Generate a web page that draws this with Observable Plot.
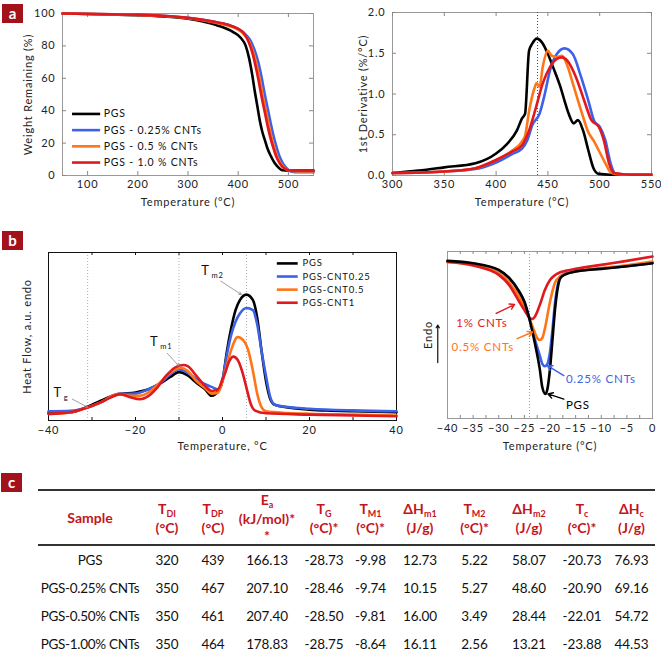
<!DOCTYPE html>
<html><head><meta charset="utf-8">
<script src="https://cdn.jsdelivr.net/npm/d3@7"></script>
<script src="https://cdn.jsdelivr.net/npm/@observablehq/plot@0.6"></script>
<style>
body{margin:0;background:#fff;}
#page{position:relative;width:661px;height:658px;overflow:hidden;font-family:Lato,sans-serif;background:#fff;}
.panel{position:absolute;}
.tag{position:absolute;background:#a3121b;color:#fff;font:bold 15px Lato,sans-serif;width:21px;height:19px;line-height:18px;text-align:center;}
table.tbl{position:absolute;left:38px;top:489px;width:617px;border-collapse:collapse;table-layout:fixed;font-family:Lato,sans-serif;}
table.tbl th{color:#c4141c;font-weight:bold;font-size:14px;line-height:17px;height:52px;padding:0;text-align:center;vertical-align:middle;border-top:2px solid #333;border-bottom:2px solid #333;white-space:nowrap;}
table.tbl td{font-size:13.5px;height:28px;padding:0;text-align:center;color:#111;white-space:nowrap;letter-spacing:-0.1px;}
table.tbl td:first-child{letter-spacing:-0.3px;}
table.tbl tr:last-child td{border-bottom:2px solid #333;}
table.tbl sub{font-size:9px;vertical-align:baseline;position:relative;top:3px;}
</style></head>
<body><div id="page"></div>
<script>
// ---------- DATA ----------
const seriesNames = ["PGS", "PGS - 0.25% CNTs", "PGS - 0.5 % CNTs", "PGS - 1.0 % CNTs"];
const seriesNamesB = ["PGS", "PGS-CNT0.25", "PGS-CNT0.5", "PGS-CNT1"];
const colors = ["#000000", "#3d62e8", "#ff7518", "#e0191e"];

// (a) TGA weight remaining (%)
const tgaPGS = [[50,100],[100,99.7],[150,99.4],[200,99],[250,98.2],[300,96.8],[330,95],[360,92.5],[390,88.5],[405,85],[415,80],[422,72],[428,62],[433,52],[438,43],[443,34],[448,27],[453,22],[458,17],[465,12],[472,8],[480,5],[488,3.2],[500,3],[550,3]];
const tga025 = [[50,100],[150,99.5],[200,99.2],[250,98.6],[300,97.3],[350,95],[380,93],[400,90.5],[415,87],[425,83],[432,78],[440,70],[447,60],[453,50],[459,41],[465,32],[470,25],[476,18],[482,12],[490,7],[498,4],[505,2.5],[520,2],[550,2]];
const tga05 = [[50,100],[150,99.5],[200,99.1],[250,98.5],[300,97.1],[350,94.6],[380,92.5],[400,90],[412,87],[422,82.5],[430,76],[437,68],[443,59],[449,49],[455,40],[461,31],[466,24],[472,17],[478,11.5],[486,7],[494,4.2],[502,3],[520,2.5],[550,2.5]];
const tga10 = [[50,100],[150,99.5],[200,99.2],[250,98.6],[300,97.3],[350,95],[380,93],[400,90.5],[412,87.5],[420,83],[428,76],[435,67],[441,58],[447,48],[453,39],[459,30],[464,23.5],[470,17],[476,11.5],[484,7],[492,4.3],[500,3.3],[510,3],[550,3]];

// (a) 1st derivative (%/°C)
const dtgPGS = [[300,0.03],[325,0.06],[350,0.1],[380,0.15],[400,0.27],[410,0.38],[420,0.55],[425,0.7],[428,0.76],[431.8,1.53],[435,1.62],[439.2,1.68],[445,1.62],[450,1.49],[455,1.33],[462,1.09],[466,0.92],[470,0.76],[475,0.64],[479,0.68],[484,0.55],[489,0.31],[494,0.09],[499,0.02],[510,0.01],[550,0.01]];
const dtg025 = [[300,0.03],[350,0.05],[380,0.08],[400,0.16],[415,0.26],[425,0.33],[430,0.43],[435,0.62],[442,0.76],[447,1.0],[452,1.29],[458.6,1.49],[466,1.56],[474,1.49],[482,1.21],[489,0.92],[495,0.66],[500,0.6],[505.5,0.43],[510.5,0.15],[515.5,0.02],[530,0.01],[550,0.01]];
const dtg05 = [[300,0.03],[350,0.05],[380,0.09],[400,0.19],[415,0.3],[424,0.4],[428,0.49],[432,0.8],[437,1.07],[439,1.13],[442,1.09],[445,1.33],[450,1.53],[453.6,1.47],[458.6,1.45],[463.6,1.47],[468.7,1.35],[475,1.09],[482,0.8],[489,0.53],[494,0.43],[499,0.31],[505.5,0.15],[510.5,0.04],[515,0.02],[530,0.01],[550,0.01]];
const dtg10 = [[300,0.03],[350,0.05],[380,0.09],[400,0.19],[415,0.29],[425,0.37],[432,0.56],[438.6,0.84],[445,1.13],[452,1.33],[458.6,1.43],[463.6,1.45],[468.7,1.41],[477,1.21],[485,0.92],[492,0.68],[499,0.6],[504,0.43],[509,0.15],[514,0.03],[530,0.01],[550,0.01]];
const dtgPeak = [440];

// (b) DSC heating (a.u.)
const dscPGS = [[-40,4.5],[-35,4.9],[-31,8.2],[-28,11.8],[-24,15.7],[-20,16.7],[-17,18.6],[-14,22.5],[-12,25.9],[-10,28.8],[-8,26.9],[-6,22.5],[-4,18.6],[-2.5,14.7],[-1,17.6],[0,23.5],[1,41],[2,55],[3,65.7],[4,71.6],[5.5,74.9],[7,71.6],[8,60.8],[9,41],[10,23.5],[11,12.7],[12,9.4],[15,7.8],[20,6.5],[25,5.9],[30,5.5],[40,4.9]];
const dsc025 = [[-40,5.5],[-35,5.8],[-31,7.8],[-28,10.8],[-24,15.7],[-20,16],[-17,18.6],[-14,22.9],[-12,27.5],[-10,30.4],[-8,28.4],[-6,24.5],[-4,21.6],[-2.5,20],[-1,18.6],[0,24.5],[1,39],[2,51],[3,58.8],[4,63.7],[5.5,67],[7,65.7],[8,56.9],[9,41],[10,26.5],[11,13.7],[12,9.4],[15,8],[20,7],[30,6],[40,5.5]];
const dsc05 = [[-40,3.9],[-35,4.8],[-31,7.8],[-28,10.8],[-24,15.7],[-21,14.7],[-19,14.7],[-17,16.7],[-14,23.5],[-12,28.4],[-9.5,31.4],[-8,29.4],[-6,23.5],[-4,19.2],[-2.5,16],[-1,16.7],[0,23.5],[1,33],[2,42],[3.5,49.6],[5,47],[6,41],[7,29.4],[8,15.7],[9,7.8],[10,5.5],[15,4.5],[20,4],[30,3.5],[40,3]];
const dsc10 = [[-40,3.9],[-35,4.9],[-31,7.8],[-28,10.8],[-26,13.3],[-23.5,15.7],[-21,13.7],[-19,12.7],[-17,14.7],[-15,19.6],[-13,26.5],[-11,31.4],[-9,33],[-8,32.4],[-6,26.5],[-4,20.6],[-2.5,17.6],[-1,18.6],[0,24.5],[0.5,27.5],[1.5,35],[2.5,38],[3.5,36],[4.5,29.4],[5.5,19.6],[6.5,9.8],[7.5,5.9],[10,4.3],[20,3.5],[40,2.5]];
const dscGuides = [-31, -10, 5.5];

// (b) DSC cooling (a.u.)
const coolPGS = [[-40,94.4],[-35,93],[-30,89],[-28,84.3],[-26,75.9],[-25,69.9],[-24,59.4],[-23,45.8],[-22,29.7],[-21.5,18.7],[-20.9,14.7],[-20.5,17.7],[-20,29.7],[-19.5,47.8],[-19,65.9],[-18.5,78],[-18,84],[-17,86.3],[-15,88],[-10,89.6],[-5,91.2],[0,93]];
const cool025 = [[-40,93.8],[-35,92.6],[-30,88.6],[-28,84],[-26,76],[-25,70],[-24,59.6],[-23,47.8],[-22,37.8],[-21.5,32.7],[-21,31.3],[-20.5,32.7],[-20,39.8],[-19.5,53.8],[-19,69.9],[-18.5,80],[-18,85],[-17,86.8],[-15,88.2],[-10,89.8],[-5,91.2],[0,93]];
const cool05 = [[-40,93.6],[-35,92],[-30,87],[-28,81.5],[-26,72.9],[-25,66.9],[-24,59.8],[-23,51.8],[-22.5,48.2],[-22,47],[-21.5,48.2],[-21,53.8],[-20,69.9],[-19,81.5],[-18,85],[-17,86.5],[-15,88],[-10,90],[-5,91.8],[0,94]];
const cool10 = [[-40,94],[-35,91.6],[-30,86],[-28,80],[-26,69.9],[-25,64.9],[-24,60.4],[-23.5,59.6],[-23,60.8],[-22,67.9],[-21,76.9],[-20,82.9],[-19,85.9],[-18,87.6],[-17,88.4],[-15,89.6],[-10,92],[-5,94.4],[0,97]];
const coolGuide = [-24];

// annotations
const annB1 = [{t:"T", s:"g", x:-37.9, y:16.7, x1:-34.5, y1:12.7, x2:-30.9, y2:7.8},
               {t:"T", s:"m1", x:-15.7, y:47, x1:-12.7, y1:40, x2:-10, y2:32.4},
               {t:"T", s:"m2", x:-3.9, y:89, x1:-0.4, y1:83, x2:4.3, y2:75}];
const annB2 = [{label:"1% CNTs", c:3, x:-38.3, y:57.2, x1:-30.5, y1:62.9, x2:-26.9, y2:68.3},
               {label:"0.5% CNTs", c:2, x:-39.2, y:42.8, x1:-26.4, y1:47.8, x2:-23.4, y2:51.8},
               {label:"0.25% CNTs", c:1, x:-16.9, y:23.7, x1:-17.3, y1:25.7, x2:-20.5, y2:31.7},
               {label:"PGS", c:0, x:-16.9, y:8, x1:-17.3, y1:11.6, x2:-20.4, y2:14.7}];

// ticks
const aLX = [100,200,300,400,500], aLY = [0,20,40,60,80,100];
const aRX = [300,350,400,450,500,550], aRY = [0,0.5,1,1.5,2];
const bLX = [-40,-20,0,20,40], bLMinor = [-30,-20,-10,0,10,20,30];
const bRX = [-40,-35,-30,-25,-20,-15,-10,-5,0], bRMinor = d3.range(-37.5, 0, 2.5);

// table
const tHead = ["Sample","T<sub>DI</sub><br>(°C)","T<sub>DP</sub><br>(°C)","E<sub>a</sub><br>(kJ/mol)*<br>*","T<sub>G</sub><br>(°C)*","T<sub>M1</sub><br>(°C)*","ΔH<sub>m1</sub><br>(J/g)","T<sub>M2</sub><br>(°C)*","ΔH<sub>m2</sub><br>(J/g)","T<sub>c</sub><br>(°C)*","ΔH<sub>c</sub><br>(J/g)"];
const tSamples = ["PGS","PGS-0.25% CNTs","PGS-0.50% CNTs","PGS-1.00% CNTs"];
const tDI = ["320","350","350","350"];
const tDP = ["439","467","461","464"];
const tEa = ["166.13","207.10","207.40","178.83"];
const tTG = ["-28.73","-28.46","-28.50","-28.75"];
const tTM1 = ["-9.98","-9.74","-9.81","-8.64"];
const tHm1 = ["12.73","10.15","16.00","16.11"];
const tTM2 = ["5.22","5.27","3.49","2.56"];
const tHm2 = ["58.07","48.60","28.44","13.21"];
const tTc = ["-20.73","-20.90","-22.01","-23.88"];
const tHc = ["76.93","69.16","54.72","44.53"];
const colW = [104,50,42,66,48,45,54,55,54,52,47];

// ---------- RENDER ----------
const page = document.getElementById("page");
function place(node, left, top) {
  const d = document.createElement("div");
  d.className = "panel"; d.style.left = left + "px"; d.style.top = top + "px";
  d.appendChild(node); page.appendChild(d);
}
function tag(letter, left, top) {
  const d = document.createElement("div");
  d.className = "tag"; d.textContent = letter;
  d.style.left = left + "px"; d.style.top = top + "px";
  page.appendChild(d);
}
const lineOpts = (i) => ({x: d => d[0], y: d => d[1], stroke: colors[i], strokeWidth: 2.6, curve: "monotone-x"});
function innerTicks(xt, yt, fw, fh, len, stroke) {
  const m = [];
  if (xt) { m.push(Plot.ruleX(xt, {insetTop: fh - len, stroke})); m.push(Plot.ruleX(xt, {insetBottom: fh - len, stroke})); }
  if (yt) { m.push(Plot.ruleY(yt, {insetRight: fw - len, stroke})); m.push(Plot.ruleY(yt, {insetLeft: fw - len, stroke})); }
  return m;
}
const baseStyle = {fontFamily: "Lato, sans-serif", fontSize: "11px", letterSpacing: "0.8px", color: "#222", background: "#fff"};
const xLabel = (t, dy) => Plot.text([t], {frameAnchor: "bottom", dy, textAnchor: "middle", fontSize: 11, letterSpacing: "1.3px", fill: "#222"});
const yLabel = (t, dx) => Plot.text([t], {frameAnchor: "left", rotate: -90, dx, textAnchor: "middle", fontSize: 11, letterSpacing: "1.3px", fill: "#222"});

// (a) left
{
  const W = 330, H = 215, mL = 62, mR = 17, mT = 13, mB = 40;
  const tga = [tgaPGS, tga025, tga05, tga10];
  const leg = seriesNames.map((n, i) => ({n, i, y: 38 - 10 * i}));
  const p = Plot.plot({
    width: W, height: H, marginLeft: mL, marginRight: mR, marginTop: mT, marginBottom: mB,
    style: baseStyle,
    x: {domain: [50, 550], ticks: aLX, tickSize: 0, tickPadding: 5, label: null},
    y: {domain: [0, 100], ticks: aLY, tickSize: 0, tickPadding: 7, label: null},
    marks: [
      Plot.frame({stroke: "#999"}),
      ...innerTicks(aLX, aLY, W - mL - mR, H - mT - mB, 4, "#888"),
      ...tga.map((s, i) => Plot.line(s, lineOpts(i))),
      Plot.ruleY(leg, {y: "y", x1: 70, x2: 126, stroke: d => colors[d.i], strokeWidth: 2.6}),
      Plot.text(leg, {x: 132, y: "y", text: "n", textAnchor: "start", fontSize: 10.5, letterSpacing: "1.5px", fill: "#111"}),
      xLabel("Temperature (°C)", 30),
      yLabel("Weight Remaining (%)", -34)
    ]
  });
  place(p, 0, 0);
}
// (a) right
{
  const W = 331, H = 215, mL = 62, mR = 10, mT = 12, mB = 40;
  const dtg = [dtgPGS, dtg025, dtg05, dtg10];
  const p = Plot.plot({
    width: W, height: H, marginLeft: mL, marginRight: mR, marginTop: mT, marginBottom: mB,
    style: baseStyle,
    x: {domain: [300, 550], ticks: aRX, tickSize: 0, tickPadding: 5, label: null},
    y: {domain: [0, 2], ticks: aRY, tickSize: 0, tickPadding: 7, tickFormat: d3.format(".1f"), label: null},
    marks: [
      Plot.frame({stroke: "#999"}),
      ...innerTicks(aRX, aRY, W - mL - mR, H - mT - mB, 4, "#888"),
      Plot.ruleX(dtgPeak, {stroke: "#445", strokeDasharray: "1,2"}),
      ...dtg.map((s, i) => Plot.line(s, lineOpts(i))),
      xLabel("Temperature (°C)", 30),
      yLabel("1st Derivative (%/°C)", -29)
    ]
  });
  place(p, 330, 0);
}
// (b) left
{
  const W = 410, H = 235, mL = 48, mR = 14, mT = 22, mB = 45;
  const dsc = [dscPGS, dsc025, dsc05, dsc10];
  const leg = seriesNamesB.map((n, i) => ({n, i, y: 93.5 - 7.8 * i}));
  const p = Plot.plot({
    width: W, height: H, marginLeft: mL, marginRight: mR, marginTop: mT, marginBottom: mB,
    style: baseStyle,
    x: {domain: [-40, 40], ticks: bLX, tickSize: 0, tickPadding: 6, label: null},
    y: {domain: [0, 100], axis: null},
    marks: [
      Plot.ruleX(dscGuides, {stroke: "#aab", strokeDasharray: "1,2"}),
      Plot.frame({stroke: "#111"}),
      ...innerTicks(bLMinor, null, W - mL - mR, H - mT - mB, 3, "#111"),
      ...dsc.map((s, i) => Plot.line(s, lineOpts(i))),
      Plot.ruleY(leg, {y: "y", x1: 12.6, x2: 17.4, stroke: d => colors[d.i], strokeWidth: 2.6}),
      Plot.text(leg, {x: 18.4, y: "y", text: "n", textAnchor: "start", fontSize: 9.5, letterSpacing: "1.3px", fill: "#111"}),
      Plot.arrow(annB1, {x1: "x1", y1: "y1", x2: "x2", y2: "y2", stroke: "#888", strokeWidth: 0.8, headLength: 5}),
      Plot.text(annB1, {x: "x", y: "y", text: "t", fontSize: 13, fill: "#111"}),
      Plot.text(annB1, {x: "x", y: "y", text: "s", fontSize: 7.5, dx: 6, dy: 5, textAnchor: "start", fill: "#111"}),
      xLabel("Temperature, °C", 29),
      yLabel("Heat Flow, a.u. endo", -21)
    ]
  });
  place(p, 0, 230);
}
// (b) right
{
  const W = 251, H = 235, mL = 37, mR = 9, mT = 21, mB = 47;
  const cool = [coolPGS, cool025, cool05, cool10];
  const p = Plot.plot({
    width: W, height: H, marginLeft: mL, marginRight: mR, marginTop: mT, marginBottom: mB,
    style: baseStyle,
    x: {domain: [-40, 0], ticks: bRX, tickSize: 0, tickPadding: 6, label: null},
    y: {domain: [0, 100], axis: null},
    marks: [
      Plot.ruleX(coolGuide, {stroke: "#999", strokeDasharray: "1,2"}),
      Plot.frame({stroke: "#999"}),
      ...innerTicks(bRMinor, null, W - mL - mR, H - mT - mB, 3, "#888"),
      ...[1, 2, 3, 0].map(i => Plot.line(cool[i], lineOpts(i))),
      Plot.arrow(annB2, {x1: "x1", y1: "y1", x2: "x2", y2: "y2", stroke: d => colors[d.c], strokeWidth: 1.4, headLength: 6}),
      Plot.text(annB2, {x: "x", y: "y", text: "label", textAnchor: "start", fill: d => colors[d.c], fontSize: 11.5, letterSpacing: "1.8px"}),
      Plot.arrow([{x: -41.9, y1: 33.5, y2: 56}], {x1: "x", x2: "x", y1: "y1", y2: "y2", stroke: "#111", strokeWidth: 1.2, headLength: 4}),
      yLabel("Endo", -19),
      xLabel("Temperature (°C)", 31)
    ]
  });
  place(p, 410, 230);
}
tag("a", 2, 4);
tag("b", 2, 231);
tag("c", 1, 473);

// (c) table
{
  const cols = [tSamples, tDI, tDP, tEa, tTG, tTM1, tHm1, tTM2, tHm2, tTc, tHc];
  let html = "<colgroup>" + colW.map(w => `<col style="width:${w}px">`).join("") + "</colgroup>";
  html += "<thead><tr>" + tHead.map(h => `<th>${h}</th>`).join("") + "</tr></thead><tbody>";
  for (let r = 0; r < tSamples.length; r++) {
    html += "<tr>" + cols.map(c => `<td>${c[r]}</td>`).join("") + "</tr>";
  }
  html += "</tbody>";
  const t = document.createElement("table");
  t.className = "tbl"; t.innerHTML = html;
  page.appendChild(t);
}
</script></body></html>
